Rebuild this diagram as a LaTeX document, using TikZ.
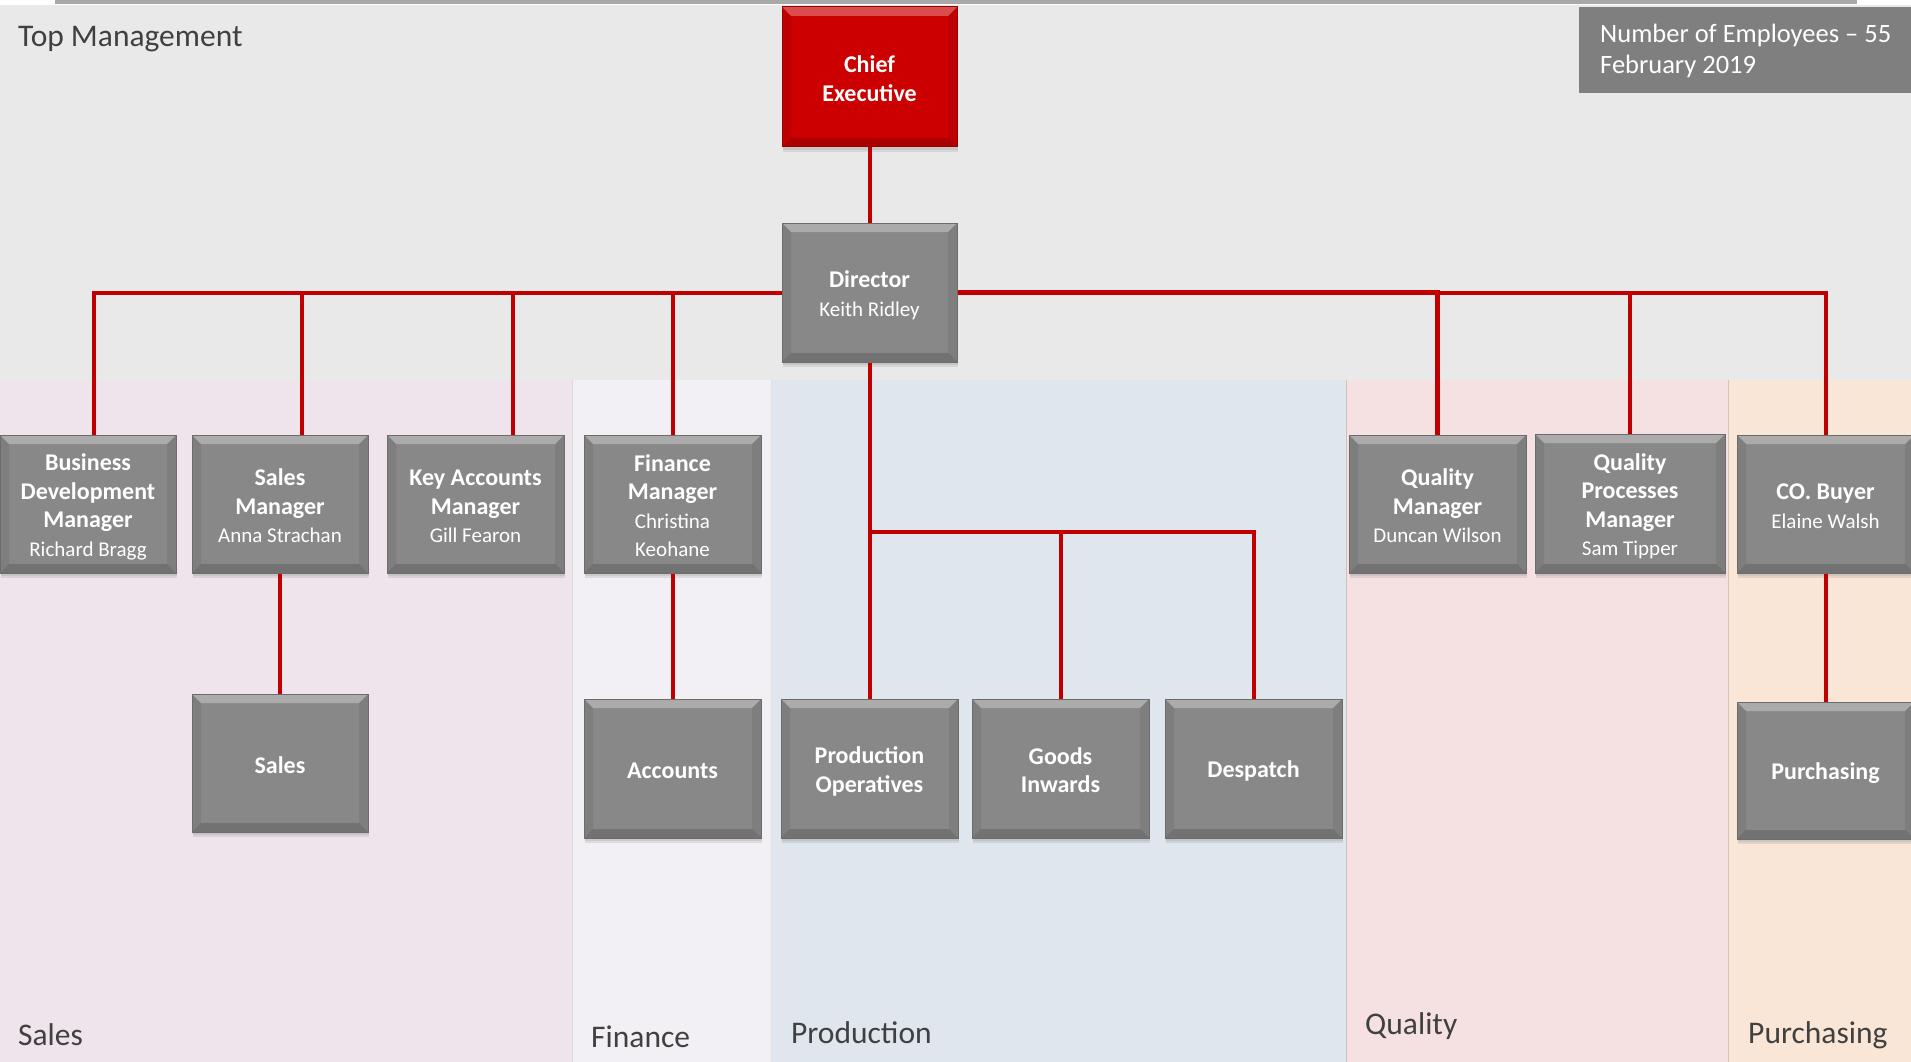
\documentclass[tikz,border=0pt]{standalone}
\usepackage{fontspec}
\setmainfont{Carlito}
\usetikzlibrary{shadows}
\definecolor{boxgray}{HTML}{888888}
\definecolor{boxedge}{HTML}{6C6C6C}
\definecolor{ceored}{HTML}{CC0000}
\definecolor{ceoedge}{HTML}{9A0000}
\definecolor{linered}{HTML}{C00000}
\definecolor{topband}{HTML}{E9E9E9}
\definecolor{salesbg}{HTML}{EFE3EC}
\definecolor{finbg}{HTML}{F2F0F5}
\definecolor{prodbg}{HTML}{DFE6EE}
\definecolor{qualbg}{HTML}{F5E1E1}
\definecolor{purbg}{HTML}{FAE6D7}
\definecolor{hdrgray}{HTML}{7F7F7F}
\definecolor{labelgray}{HTML}{404040}
\definecolor{topline}{HTML}{A8A8A8}
\newcommand\boxtitle[1]{{\fontsize{24}{28.5}\selectfont\bfseries #1}}
\newcommand\linestrut{\rule[-2.5pt]{0pt}{25pt}}
\newcommand\bx[1]{\linestrut#1\linestrut}
\newcommand\boxbevel{%
  \fill[white,opacity=.30] (path picture bounding box.north west) -- (path picture bounding box.north east)
     -- ([shift={(-9pt,-9pt)}]path picture bounding box.north east) -- ([shift={(9pt,-9pt)}]path picture bounding box.north west) -- cycle;
  \fill[black,opacity=.07] (path picture bounding box.north west) -- ([shift={(9pt,-9pt)}]path picture bounding box.north west)
     -- ([shift={(9pt,9pt)}]path picture bounding box.south west) -- (path picture bounding box.south west) -- cycle;
  \fill[black,opacity=.07] (path picture bounding box.north east) -- ([shift={(-9pt,-9pt)}]path picture bounding box.north east)
     -- ([shift={(-9pt,9pt)}]path picture bounding box.south east) -- (path picture bounding box.south east) -- cycle;
  \fill[black,opacity=.16] (path picture bounding box.south west) -- (path picture bounding box.south east)
     -- ([shift={(-9pt,9pt)}]path picture bounding box.south east) -- ([shift={(9pt,9pt)}]path picture bounding box.south west) -- cycle;
}
\tikzset{
  obox/.style={rectangle, fill=boxgray, draw=boxedge, line width=1pt, inner sep=2pt,
    text=white, align=center, font=\fontsize{21}{28.5}\selectfont,
    drop shadow={shadow xshift=1pt, shadow yshift=-5pt, opacity=.18},
    drop shadow={shadow xshift=1pt, shadow yshift=-3pt, opacity=.18},
    path picture={\boxbevel}},
  redbox/.style={obox, fill=ceored, draw=ceoedge},
  conn/.style={draw=linered, line width=4pt},
  lane/.style={anchor=base west, inner sep=0pt, text=labelgray, font=\fontsize{31.5}{36}\selectfont},
}
\begin{document}
\begin{tikzpicture}[x=1pt,y=-1pt]
\useasboundingbox (0,0) rectangle (1911,1062);
% backgrounds
\fill[white] (0,0) rectangle (1911,1062);
\fill[topband] (0,5) rectangle (1911,380);
\fill[topline] (55,0) rectangle (1857,4);
\fill[salesbg] (0,380) rectangle (572,1062);
\fill[finbg] (572,380) rectangle (771,1062);
\fill[prodbg] (771,380) rectangle (1346,1062);
\fill[qualbg] (1346,380) rectangle (1728,1062);
\fill[purbg] (1728,380) rectangle (1911,1062);
\draw[white!85!black, line width=0.6pt] (572,380) -- (572,1062);
\draw[white!88!black, line width=0.6pt] (771,380) -- (771,1062);
\draw[qualbg!85!black, line width=0.6pt] (1346,380) -- (1346,1062);
\draw[purbg!85!black, line width=0.6pt] (1728,380) -- (1728,1062);

% labels
\node[lane] (ltop) at (18,47) {Top Management};
\node[lane] (lsales) at (18,1045) {Sales};
\node[lane] (lfin) at (591,1047) {Finance};
\node[lane] (lprod) at (791,1043) {Production};
\node[lane] (lqual) at (1365,1034) {Quality};
\node[lane] (lpur) at (1748,1043) {Purchasing};

% header
\node[fill=hdrgray, minimum width=332pt, minimum height=86pt, inner sep=0pt] (hdrbox) at (1745,50) {};
\node[anchor=base west, inner sep=0pt, text=white, align=left, font=\fontsize{26.5}{31}\selectfont] (hdrtext) at (1600,74) {Number of Employees – 55\\February 2019};

% boxes
\node[redbox, minimum width=175pt, minimum height=140pt] (ceo) at (869.5,77) {\bx{\boxtitle{Chief}\\\boxtitle{Executive}}};
\node[obox, minimum width=175pt, minimum height=139pt] (dir) at (869.5,292.5) {\bx{\boxtitle{Director}\\Keith Ridley}};

\node[obox, minimum width=176pt, minimum height=138pt] (bdm) at (88,504) {\bx{\boxtitle{Business}\\\boxtitle{Development}\\\boxtitle{Manager}\\Richard Bragg}};
\node[obox, minimum width=176pt, minimum height=138pt] (smgr) at (280,504) {\bx{\boxtitle{Sales}\\\boxtitle{Manager}\\Anna Strachan}};
\node[obox, minimum width=177pt, minimum height=138pt] (kam) at (475.5,504) {\bx{\boxtitle{Key Accounts}\\\boxtitle{Manager}\\Gill Fearon}};
\node[obox, minimum width=177pt, minimum height=138pt] (fmgr) at (672.5,504) {\bx{\boxtitle{Finance}\\\boxtitle{Manager}\\Christina\\Keohane}};
\node[obox, minimum width=177pt, minimum height=138pt] (qm) at (1437.5,504) {\bx{\boxtitle{Quality}\\\boxtitle{Manager}\\Duncan Wilson}};
\node[obox, minimum width=190pt, minimum height=139pt] (qpm) at (1630,503.5) {\bx{\boxtitle{Quality}\\\boxtitle{Processes}\\\boxtitle{Manager}\\Sam Tipper}};
\node[obox, minimum width=177pt, minimum height=138pt] (buyer) at (1825.5,504) {\bx{\boxtitle{CO. Buyer}\\Elaine Walsh}};

\node[obox, minimum width=176pt, minimum height=138pt] (sales) at (280,763) {\bx{\boxtitle{Sales}}};
\node[obox, minimum width=177pt, minimum height=139pt] (acc) at (672.5,768.5) {\bx{\boxtitle{Accounts}}};
\node[obox, minimum width=177pt, minimum height=139pt] (prodops) at (869.5,768.5) {\bx{\boxtitle{Production}\\\boxtitle{Operatives}}};
\node[obox, minimum width=177pt, minimum height=139pt] (goods) at (1060.5,768.5) {\bx{\boxtitle{Goods}\\\boxtitle{Inwards}}};
\node[obox, minimum width=177pt, minimum height=139pt] (desp) at (1253.5,768.5) {\bx{\boxtitle{Despatch}}};
\node[obox, minimum width=177pt, minimum height=137pt] (purch) at (1825.5,770.5) {\bx{\boxtitle{Purchasing}}};

\coordinate (pj) at (869.5,532);

% connectors
\draw[conn] (ceo.south) -- (dir.north);
\draw[conn] (dir.west) -| ([xshift=6pt]bdm.north);
\draw[conn] (dir.west) -| ([xshift=22pt]smgr.north);
\draw[conn] (dir.west) -| ([xshift=37.5pt]kam.north);
\draw[conn] (dir.west) -| (fmgr.north);
\draw[conn, line width=4.8pt] (dir.east) -| (qm.north);
\draw[conn] (dir.east) -| (qpm.north);
\draw[conn] (dir.east) -| (buyer.north);
\draw[conn] (dir.south) -- (prodops.north);
\draw[conn] (pj) -| (goods.north);
\draw[conn] (pj) -| (desp.north);
\draw[conn] (smgr.south) -- (sales.north);
\draw[conn] (fmgr.south) -- (acc.north);
\draw[conn] (buyer.south) -- (purch.north);
\end{tikzpicture}
\end{document}
